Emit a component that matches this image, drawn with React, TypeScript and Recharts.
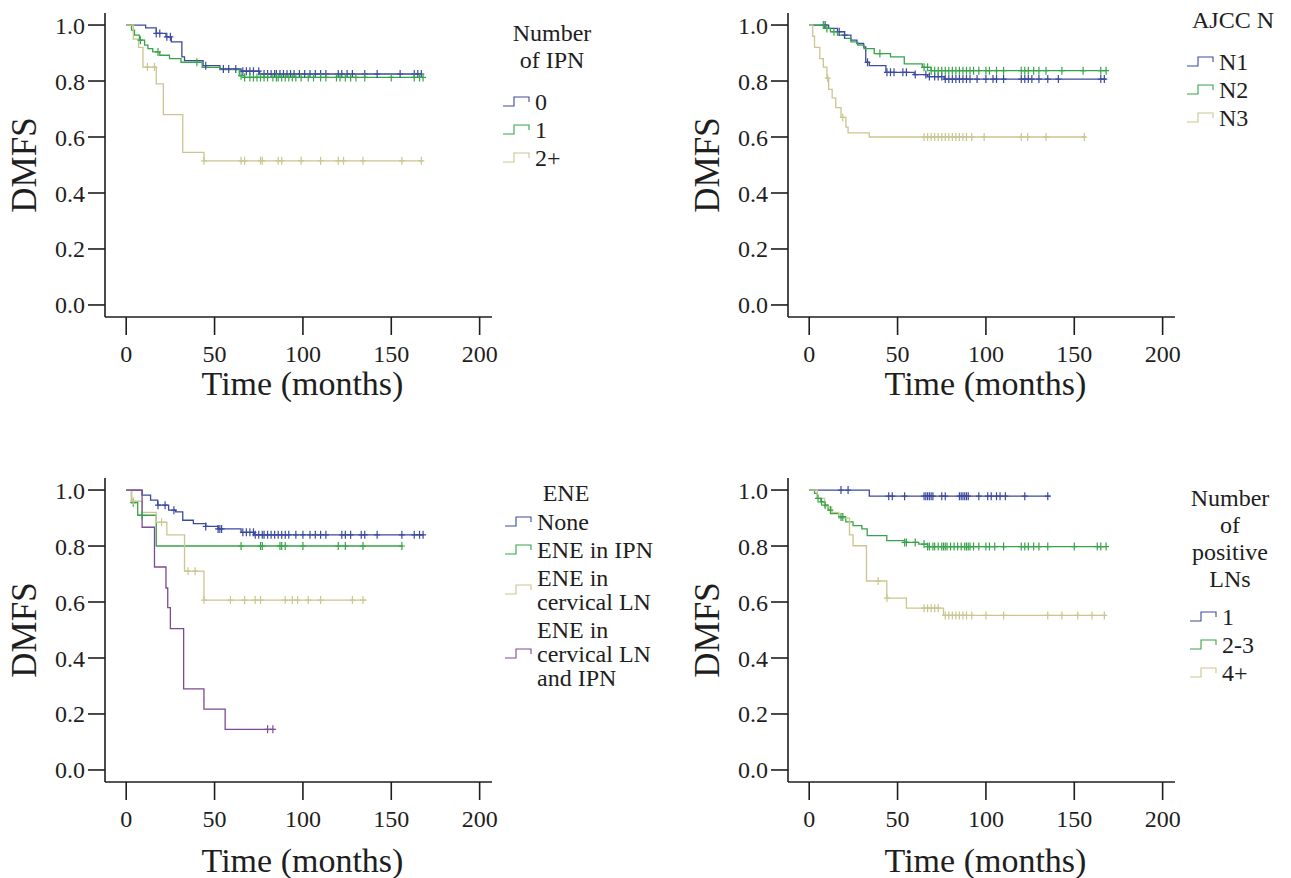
import React from "react";
import { ComposedChart, Line, Scatter, XAxis, YAxis } from "recharts";

const FONT = '"Liberation Serif", "Times New Roman", serif';
const INK = "#1e1e1e";
const BLUE = "#3c4a9e";
const GREEN = "#37a449";
const TAN = "#c9c690";
const PURPLE = "#7d4a94";

const xTicks = [0, 50, 100, 150, 200];
const yTicks = [0, 0.2, 0.4, 0.6, 0.8, 1.0];

// Number of IPN  (steps: [months, DMFS])
const ipnTitle = ["Number", "of IPN"];
const ipnLabels = ["0", "1", "2+"];
const ipn0Steps = [[0, 1], [11, 0.99], [17, 0.97], [22.5, 0.958], [25.5, 0.94], [31.5, 0.886], [33, 0.873], [43.5, 0.855], [53, 0.843], [65, 0.835], [75.5, 0.825], [167, 0.825]];
const ipn0Censor = [17, 19, 23, 25, 45, 55, 58, 62, 66, 68, 70, 72, 75, 78, 80, 82, 84, 85, 87, 89, 91, 93, 95, 98, 101, 104, 107, 110, 113, 120, 122, 125, 128, 135, 142, 155, 163, 165, 167];
const ipn1Steps = [[0, 1], [3, 0.982], [4.7, 0.964], [7.5, 0.946], [10.4, 0.928], [12.3, 0.916], [15, 0.904], [19, 0.892], [24.5, 0.88], [31, 0.867], [43, 0.849], [53, 0.841], [64, 0.819], [67, 0.813], [168, 0.813]];
const ipn1Censor = [8, 18, 40, 65, 67, 70, 72, 74, 76, 78, 80, 83, 85, 86, 88, 90, 92, 94, 96, 99, 103, 106, 110, 113, 119, 121, 124, 127, 130, 135, 150, 163, 166, 168];
const ipn2Steps = [[0, 1], [4, 0.95], [7, 0.92], [9.5, 0.85], [17, 0.79], [21, 0.68], [32, 0.545], [44, 0.515], [168, 0.515]];
const ipn2Censor = [12, 16, 44, 65, 67, 76, 77, 86, 88, 99, 110, 120, 123, 134, 156, 167];

// AJCC N
const ajccTitle = ["AJCC N"];
const ajccLabels = ["N1", "N2", "N3"];
const n1Steps = [[0, 1], [11, 0.988], [16, 0.976], [20, 0.964], [23.6, 0.946], [27, 0.934], [30.8, 0.922], [32, 0.867], [34, 0.855], [43.4, 0.831], [59.4, 0.823], [67, 0.816], [76.4, 0.807], [168, 0.807]];
const n1Censor = [9, 17, 20, 33, 44, 46, 48, 53, 55, 60, 66, 68, 71, 73, 75, 77, 79, 81, 83, 85, 87, 89, 91, 95, 100, 104, 106, 110, 120, 122, 124, 126, 130, 135, 141, 165, 167];
const n2Steps = [[0, 1], [8.5, 0.988], [12, 0.976], [16, 0.964], [20, 0.952], [23.6, 0.94], [27.4, 0.928], [31, 0.916], [36.8, 0.898], [46, 0.886], [53.8, 0.861], [64, 0.849], [69, 0.837], [168, 0.837]];
const n2Censor = [8, 10, 14, 40, 65, 67, 69, 71, 73, 75, 77, 79, 81, 83, 85, 87, 89, 91, 93, 96, 100, 102, 106, 110, 120, 122, 124, 127, 130, 134, 143, 155, 165, 168];
const n3Steps = [[0, 1], [2, 0.96], [3, 0.92], [6, 0.88], [8, 0.85], [10, 0.81], [11, 0.77], [13, 0.74], [15, 0.705], [18, 0.67], [20.8, 0.635], [22, 0.615], [34, 0.6], [156.6, 0.6]];
const n3Censor = [10.5, 19, 65, 67, 69, 71, 73, 75, 77, 79, 81, 83, 85, 87, 89, 92, 99, 120, 123.6, 134, 155.7];

// ENE
const eneTitle = ["ENE"];
const eneLabels = [["None"], ["ENE in IPN"], ["ENE in", "cervical LN"], ["ENE in", "cervical LN", "and IPN"]];
const eneNoneSteps = [[0, 1], [9, 0.982], [13.8, 0.964], [17.8, 0.946], [24, 0.928], [28, 0.922], [32, 0.892], [38, 0.88], [45, 0.87], [52, 0.861], [65, 0.849], [72.5, 0.84], [168.5, 0.84]];
const eneNoneCensor = [18, 22, 27, 45, 52, 53, 54, 66, 68, 70, 72, 73, 75, 77, 78, 80, 82, 84, 86, 88, 90, 92, 96, 100, 104, 107, 110, 113, 122, 124, 127, 133, 135, 142, 156, 163, 166, 168];
const eneIpnSteps = [[0, 1], [3, 0.955], [6.5, 0.91], [17, 0.8], [156.5, 0.8]];
const eneIpnCensor = [4, 9, 65, 76, 77, 87, 88, 90, 100, 120, 124, 134, 156];
const eneCervSteps = [[0, 1], [3, 0.96], [9, 0.92], [17, 0.885], [23, 0.84], [33, 0.71], [44, 0.607], [136, 0.607]];
const eneCervCensor = [4, 20, 35, 39, 44, 59, 67, 73, 76, 90, 94, 97, 103, 110, 128, 134];
const eneBothSteps = [[0, 1], [9, 0.867], [16, 0.725], [22.5, 0.65], [23.5, 0.58], [25, 0.505], [32.5, 0.29], [44, 0.217], [56, 0.145], [84, 0.145]];
const eneBothCensor = [80, 83];

// Number of positive LNs
const lnTitle = ["Number", "of", "positive", "LNs"];
const lnLabels = ["1", "2-3", "4+"];
const ln1Steps = [[0, 1], [34, 0.978], [136.5, 0.978]];
const ln1Censor = [18, 22, 45, 47, 54, 65, 66, 67, 68, 69, 70, 75, 77, 85, 86, 87, 88, 89, 90, 96, 101, 103, 106, 108, 111, 122, 135];
const ln23Steps = [[0, 1], [3, 0.988], [4.6, 0.97], [6.6, 0.958], [8.7, 0.946], [10.7, 0.928], [12.7, 0.916], [16.7, 0.904], [20.7, 0.886], [24.8, 0.873], [29.8, 0.861], [32.8, 0.837], [43.9, 0.819], [54, 0.813], [62, 0.807], [67, 0.798], [167.8, 0.798]];
const ln23Censor = [5, 7, 9, 12, 18, 19, 54, 55, 60, 65, 67, 68, 70, 71, 73, 75, 76, 77, 78, 80, 82, 84, 86, 88, 89, 90, 91, 93, 96, 100, 102, 105, 110, 120, 122, 124, 127, 130, 135, 150, 163, 165, 168];
const ln4Steps = [[0, 1], [4.6, 0.97], [8.7, 0.94], [12.7, 0.92], [16.7, 0.9], [22.8, 0.84], [24.8, 0.801], [32.4, 0.675], [43.9, 0.614], [55, 0.578], [76, 0.552], [167.8, 0.552]];
const ln4Censor = [39, 44, 65, 67, 69, 71, 73, 77, 79, 81, 83, 85, 87, 89, 92, 100, 110, 135, 143, 152, 160, 167];

type Curve = { label: string[]; color: string; steps: number[][]; censor: number[] };

const survivalAt = (steps: number[][], t: number) => {
  let s = steps[0][1];
  for (const [x, y] of steps) if (x <= t) s = y;
  return s;
};

const censorShape = (color: string) => (props: any) => {
  const { cx, cy } = props;
  if (cx == null || cy == null) return <g />;
  return (
    <path
      d={`M${cx},${cy - 4}V${cy + 4}M${cx - 3},${cy}H${cx + 3}`}
      stroke={color}
      strokeWidth={1.2}
      fill="none"
    />
  );
};

type LegendCfg = {
  titleX: number;
  titleY: number;
  iconX: number;
  itemY: number;
};

const Panel = ({
  left,
  top,
  curves,
  title,
  legend,
  titleDy,
}: {
  left: number;
  top: number;
  curves: Curve[];
  title: string[];
  legend: LegendCfg;
  titleDy: number;
}) => {
  let y = legend.itemY;
  const items = curves.map((c) => {
    const lines = c.label.map((l, i) => ({ text: l, y: y + i * 24 }));
    const mid = y + ((c.label.length - 1) * 24) / 2;
    y += c.label.length * 24 + 4;
    return { lines, mid, color: c.color };
  });

  return (
    <div style={{ position: "absolute", left, top, width: 700, height: 420 }}>
      <ComposedChart width={500} height={420} margin={{ top: 13, right: 8, bottom: 0, left: 0 }}>
        <XAxis
          type="number"
          dataKey="t"
          domain={[-12, 207]}
          ticks={xTicks}
          interval={0}
          allowDataOverflow
          height={103}
          tickSize={18}
          tickMargin={10}
          axisLine={{ stroke: INK, strokeWidth: 1.6 }}
          tickLine={{ stroke: INK, strokeWidth: 1.6 }}
          tick={{ fontSize: 24, fill: INK, fontFamily: FONT }}
          label={(p: any) => {
            const vb = p && p.viewBox ? p.viewBox : { x: 105, y: 317, width: 387 };
            return (
              <text
                x={vb.x + vb.width / 2 + 4}
                y={vb.y + titleDy}
                textAnchor="middle"
                fontSize={34}
                fill={INK}
                fontFamily={FONT}
              >
                Time (months)
              </text>
            );
          }}
        />
        <YAxis
          type="number"
          dataKey="s"
          domain={[-0.043, 1.043]}
          ticks={yTicks}
          interval={0}
          allowDataOverflow
          width={105}
          tickSize={17}
          tickMargin={3}
          tickFormatter={(v: number) => v.toFixed(1)}
          axisLine={{ stroke: INK, strokeWidth: 1.6 }}
          tickLine={{ stroke: INK, strokeWidth: 1.6 }}
          tick={{ fontSize: 24, fill: INK, fontFamily: FONT }}
          label={(p: any) => {
            const vb = p && p.viewBox ? p.viewBox : { x: 0, y: 13, height: 304 };
            const cy = vb.y + vb.height / 2;
            return (
              <text
                x={24}
                y={cy}
                transform={`rotate(-90 24 ${cy})`}
                textAnchor="middle"
                dominantBaseline="central"
                fontSize={35}
                fill={INK}
                fontFamily={FONT}
              >
                DMFS
              </text>
            );
          }}
        />
        {curves.map((c, i) => (
          <Line
            key={`l${i}`}
            data={c.steps.map(([t, s]) => ({ t, s }))}
            dataKey="s"
            type="stepAfter"
            stroke={c.color}
            strokeWidth={1.3}
            dot={false}
            activeDot={false}
            isAnimationActive={false}
          />
        ))}
        {curves.map((c, i) => (
          <Scatter
            key={`c${i}`}
            data={c.censor.map((t) => ({ t, s: survivalAt(c.steps, t) }))}
            dataKey="s"
            fill={c.color}
            shape={censorShape(c.color)}
            isAnimationActive={false}
          />
        ))}
      </ComposedChart>

      {/* legend */}
      <svg
        width={700}
        height={420}
        style={{ position: "absolute", left: 0, top: 0, pointerEvents: "none" }}
        fontFamily={FONT}
        fontSize={24}
      >
        {title.map((t, i) => (
          <text
            key={t}
            x={legend.titleX}
            y={legend.titleY + i * 27}
            textAnchor="middle"
            dominantBaseline="central"
            fill={INK}
          >
            {t}
          </text>
        ))}
        {items.map((it, i) => (
          <g key={i}>
            <path
              d={`M${legend.iconX},${it.mid + 4}H${legend.iconX + 11}V${it.mid - 5}H${legend.iconX + 26}V${it.mid}`}
              stroke={it.color}
              strokeWidth={1.1}
              fill="none"
            />
            {it.lines.map((l, j) => (
              <text key={j} x={legend.iconX + 32} y={l.y} dominantBaseline="central" fill={INK}>
                {l.text}
              </text>
            ))}
          </g>
        ))}
      </svg>
    </div>
  );
};

export default function App() {
  const ipnCurves: Curve[] = [
    { label: [ipnLabels[0]], color: BLUE, steps: ipn0Steps, censor: ipn0Censor },
    { label: [ipnLabels[1]], color: GREEN, steps: ipn1Steps, censor: ipn1Censor },
    { label: [ipnLabels[2]], color: TAN, steps: ipn2Steps, censor: ipn2Censor },
  ];
  const ajccCurves: Curve[] = [
    { label: [ajccLabels[0]], color: BLUE, steps: n1Steps, censor: n1Censor },
    { label: [ajccLabels[1]], color: GREEN, steps: n2Steps, censor: n2Censor },
    { label: [ajccLabels[2]], color: TAN, steps: n3Steps, censor: n3Censor },
  ];
  const eneCurves: Curve[] = [
    { label: eneLabels[0], color: BLUE, steps: eneNoneSteps, censor: eneNoneCensor },
    { label: eneLabels[1], color: GREEN, steps: eneIpnSteps, censor: eneIpnCensor },
    { label: eneLabels[2], color: TAN, steps: eneCervSteps, censor: eneCervCensor },
    { label: eneLabels[3], color: PURPLE, steps: eneBothSteps, censor: eneBothCensor },
  ];
  const lnCurves: Curve[] = [
    { label: [lnLabels[0]], color: BLUE, steps: ln1Steps, censor: ln1Censor },
    { label: [lnLabels[1]], color: GREEN, steps: ln23Steps, censor: ln23Censor },
    { label: [lnLabels[2]], color: TAN, steps: ln4Steps, censor: ln4Censor },
  ];

  return (
    <div
      style={{
        position: "absolute",
        left: 0,
        top: 0,
        width: 1291,
        height: 878,
        overflow: "hidden",
        background: "#fff",
        fontFamily: FONT,
      }}
    >
      <Panel left={0} top={0} curves={ipnCurves} title={ipnTitle} titleDy={78}
        legend={{ titleX: 552, titleY: 33, iconX: 503, itemY: 102 }} />
      <Panel left={683} top={0} curves={ajccCurves} title={ajccTitle} titleDy={78}
        legend={{ titleX: 550, titleY: 20, iconX: 504, itemY: 62 }} />
      <Panel left={0} top={465} curves={eneCurves} title={eneTitle} titleDy={90}
        legend={{ titleX: 566, titleY: 28, iconX: 505, itemY: 57 }} />
      <Panel left={683} top={465} curves={lnCurves} title={lnTitle} titleDy={90}
        legend={{ titleX: 547, titleY: 33, iconX: 507, itemY: 152 }} />
    </div>
  );
}
